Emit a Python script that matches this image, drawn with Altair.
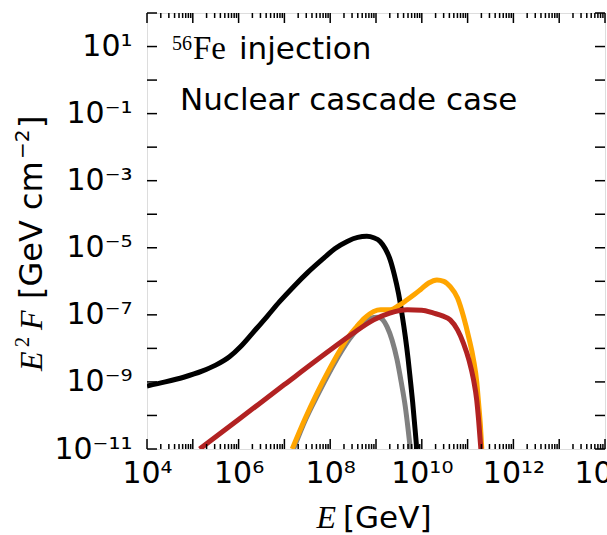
import altair as alt
import pandas as pd

# ---------------- data (log10 values) ----------------
black_logE = [4.0, 4.4, 4.8, 5.2, 5.5, 5.8, 6.04, 6.3, 6.62, 6.9, 7.2, 7.5, 7.86, 8.1, 8.37, 8.6, 8.8, 8.95,
              9.09, 9.2, 9.31, 9.4, 9.49, 9.57, 9.64, 9.7, 9.75, 9.8, 9.86, 9.89]
black_logF = [-9.12, -9.0, -8.86, -8.68, -8.5, -8.25, -7.95, -7.55, -7.05, -6.6, -6.16, -5.75, -5.31, -5.03, -4.81,
              -4.69, -4.66, -4.7, -4.81, -5.02, -5.36, -5.8, -6.35, -7.0, -7.65, -8.3, -8.94, -9.6, -10.52, -11.0]

gray_logE = [7.2, 7.47, 7.73, 7.97, 8.24, 8.42, 8.6, 8.78, 8.95, 9.05, 9.15, 9.24, 9.35, 9.46, 9.55, 9.64, 9.7, 9.75]
gray_logF = [-11.0, -10.1, -9.38, -8.75, -8.1, -7.72, -7.42, -7.2, -7.08, -7.07, -7.15, -7.35, -7.75, -8.34, -9.0,
             -9.74, -10.4, -11.0]

orange_logE = [7.17, 7.45, 7.71, 7.95, 8.22, 8.4, 8.58, 8.75, 8.95, 9.1, 9.31, 9.5, 9.68, 9.85, 9.97, 10.15, 10.33,
               10.48, 10.62, 10.78, 10.91, 11.03, 11.13, 11.2, 11.24, 11.28, 11.31]
orange_logF = [-11.0, -10.1, -9.34, -8.7, -8.04, -7.65, -7.35, -7.1, -6.9, -6.85, -6.85, -6.72, -6.55, -6.38, -6.25,
               -6.05, -5.96, -6.0, -6.16, -6.5, -7.05, -7.7, -8.34, -9.0, -9.63, -10.3, -11.0]

red_logE = [5.15, 6.0, 7.0, 8.0, 8.5, 8.95, 9.3, 9.68, 10.0, 10.26, 10.45, 10.62, 10.78, 10.91, 11.03, 11.13, 11.2,
            11.24, 11.29]
red_logF = [-11.0, -10.12, -9.08, -8.05, -7.55, -7.15, -6.95, -6.85, -6.86, -6.95, -7.03, -7.15, -7.45, -7.85,
            -8.35, -8.94, -9.55, -10.13, -11.0]

x_label_exps = [4, 6, 8, 10, 12, 14]
y_label_exps = [1, -1, -3, -5, -7, -9, -11]
x_major_exps = list(range(4, 15))
y_major_exps = list(range(-11, 3))
minor_mults = [2, 3, 4, 5, 6, 7, 8, 9]

note_line1 = ["56", "Fe", "injection"]
note_line2 = ["Nuclear cascade case"]
x_title_parts = ["E", "[GeV]"]
y_title_parts = ["E", "2", "F", "[GeV cm", "\u22122", "]"]

# ---------------- build ----------------
W, H = 458, 436
L, T = 147, 13
xs = alt.Scale(type="log", domain=[1e4, 1e14], nice=False)
ys = alt.Scale(type="log", domain=[1e-11, 1e2], nice=False)

SUP = {"0": "\u2070", "1": "\u00b9", "2": "\u00b2", "3": "\u00b3", "4": "\u2074", "5": "\u2075",
       "6": "\u2076", "7": "\u2077", "8": "\u2078", "9": "\u2079", "-": "\u207b"}


def sup(n):
    return "".join(SUP[c] for c in str(n))


def label_expr(exps):
    e = "round(log(datum.value)/LN10)"
    s = "''"
    for n in exps:
        s = f"{e} == {n} ? '10{sup(n)}' : ({s})"
    return s


X_AXIS = alt.Axis(values=[10.0 ** n for n in x_label_exps], labelExpr=label_expr(x_label_exps),
                  ticks=False, domain=False, grid=False, title=None, labelFont="DejaVu Sans",
                  labelFontSize=30, labelColor="black", labelPadding=9, labelFlush=False,
                  labelOverlap=False)
Y_AXIS = alt.Axis(values=[10.0 ** n for n in y_label_exps], labelExpr=label_expr(y_label_exps),
                  ticks=False, domain=False, grid=False, title=None, labelFont="DejaVu Sans",
                  labelFontSize=30, labelColor="black", labelPadding=15, labelAlign="right",
                  labelBaseline="middle", labelFlush=False, labelOverlap=False)


def series(le, lf):
    return pd.DataFrame({"E": [10 ** v for v in le], "F": [10 ** v for v in lf], "i": range(len(le))})


def line(le, lf, color):
    return alt.Chart(series(le, lf)).mark_line(
        color=color, strokeWidth=5, interpolate="monotone", clip=True, strokeCap="butt"
    ).encode(
        x=alt.X("E:Q", scale=xs, axis=X_AXIS),
        y=alt.Y("F:Q", scale=ys, axis=Y_AXIS),
        order="i:Q",
    )


layers = [
    line(black_logE, black_logF, "black"),
    line(gray_logE, gray_logF, "gray"),
    line(orange_logE, orange_logF, "orange"),
    line(red_logE, red_logF, "firebrick"),
]

# ticks (inward) on all four sides
big = pd.DataFrame({"v": [10.0 ** d for d in x_major_exps]})
small = pd.DataFrame({"v": [m * 10.0 ** d for d in x_major_exps[:-1] for m in minor_mults]})
yt = pd.DataFrame({"v": [10.0 ** d for d in y_major_exps]})

for df, ln in [(big, 10), (small, 5)]:
    layers.append(alt.Chart(df).mark_rule(color="black", strokeWidth=1.5).encode(
        x=alt.X("v:Q", scale=xs, axis=X_AXIS), y=alt.value(H), y2=alt.value(H - ln)))
    layers.append(alt.Chart(df).mark_rule(color="black", strokeWidth=1.5).encode(
        x=alt.X("v:Q", scale=xs, axis=X_AXIS), y=alt.value(0), y2=alt.value(ln)))
layers.append(alt.Chart(yt).mark_rule(color="black", strokeWidth=1.5).encode(
    y=alt.Y("v:Q", scale=ys, axis=Y_AXIS), x=alt.value(0), x2=alt.value(10)))
layers.append(alt.Chart(yt).mark_rule(color="black", strokeWidth=1.5).encode(
    y=alt.Y("v:Q", scale=ys, axis=Y_AXIS), x=alt.value(W), x2=alt.value(W - 10)))


def txt(t, x, y, font, size, style="normal", align="left", angle=0):
    return alt.Chart(pd.DataFrame({"t": [t]})).mark_text(
        font=font, fontSize=size, fontStyle=style, align=align, baseline="alphabetic",
        angle=angle, color="black"
    ).encode(x=alt.value(x - L), y=alt.value(y - T), text="t:N")


layers += [
    txt(note_line1[0], 172, 50, "Liberation Serif", 20),
    txt(note_line1[1], 193, 59, "Liberation Serif", 33),
    txt(note_line1[2], 239, 59, "DejaVu Sans", 31),
    txt(note_line2[0], 180, 110, "DejaVu Sans", 31),
    # x title
    txt(x_title_parts[0], 336, 528, "Liberation Serif", 32, "italic", "right"),
    txt(x_title_parts[1], 343, 528, "DejaVu Sans", 31),
    # y title (rotated)
    txt(y_title_parts[0], 42, 371, "Liberation Serif", 32, "italic", "left", 270),
    txt(y_title_parts[1], 29, 347, "Liberation Serif", 20, "normal", "left", 270),
    txt(y_title_parts[2], 42, 330, "Liberation Serif", 32, "italic", "left", 270),
    txt(y_title_parts[3], 42, 299, "DejaVu Sans", 32, "normal", "left", 270),
    txt(y_title_parts[4], 29, 159, "DejaVu Sans", 20, "normal", "left", 270),
    txt(y_title_parts[5], 42, 128, "DejaVu Sans", 32, "normal", "left", 270),
]

chart = alt.layer(*layers).properties(
    width=W, height=H,
    autosize=alt.AutoSizeParams(type="none"),
    padding={"left": L, "top": T, "right": 607 - L - W, "bottom": 535 - T - H},
).configure_view(stroke="black", strokeWidth=3).configure(background="white")

chart.save("out.html", embed_options={"renderer": "svg", "actions": False})
